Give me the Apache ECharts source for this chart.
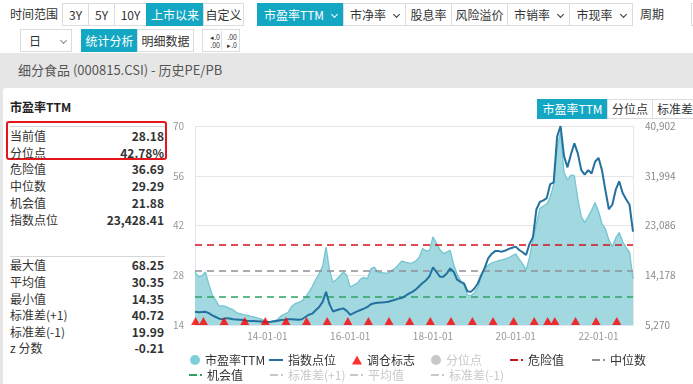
<!DOCTYPE html>
<html><head><meta charset="utf-8">
<script src="https://cdn.jsdelivr.net/npm/echarts@6/dist/echarts.min.js"></script>
<style>
*{margin:0;padding:0;box-sizing:border-box}
body{width:693px;height:384px;overflow:hidden;background:#fff;font-family:"Noto Sans CJK SC","Microsoft YaHei",sans-serif;color:#333;font-size:12px;position:relative}
.a{position:absolute;white-space:nowrap}
.btn{position:absolute;height:23px;line-height:21px;border:1px solid #dcdcdc;text-align:center;font-size:12px;color:#333;background:#fff;white-space:nowrap}
.on{background:#14a7c3;color:#fff;border-color:#14a7c3}
.chev{display:inline-block;width:5px;height:5px;border-right:1px solid currentColor;border-bottom:1px solid currentColor;transform:rotate(45deg);margin-left:8px;position:relative;top:-3px}
#band{position:absolute;left:0;top:53px;width:693px;height:331px;background:#e6e6e6}
#card{position:absolute;left:3px;top:88px;width:690px;height:296px;background:#fff;border-radius:3px 0 0 0}
#chart{position:absolute;left:0;top:0;width:693px;height:384px}
.row{position:absolute;height:16px;line-height:16px;font-size:12px}
.lab{left:10px;color:#333}
.val{left:60px;width:104px;text-align:right;font-weight:bold;color:#333}
</style></head>
<body>
<div id="band"></div>
<div id="card"></div>
<div class="a" style="left:10px;top:5px;line-height:18px">时间范围</div>
<div class="btn" style="left:62px;top:3px;width:27px">3Y</div>
<div class="btn" style="left:88px;top:3px;width:27px">5Y</div>
<div class="btn" style="left:114px;top:3px;width:33px">10Y</div>
<div class="btn on" style="left:146px;top:3px;width:58px">上市以来</div>
<div class="btn" style="left:203px;top:3px;width:41px">自定义</div>
<div class="btn on" style="left:257px;top:3px;width:87px">市盈率TTM<span class="chev"></span></div>
<div class="btn" style="left:343px;top:3px;width:63px">市净率<span class="chev"></span></div>
<div class="btn" style="left:405px;top:3px;width:47px">股息率</div>
<div class="btn" style="left:451px;top:3px;width:57px">风险溢价</div>
<div class="btn" style="left:507px;top:3px;width:63px">市销率<span class="chev"></span></div>
<div class="btn" style="left:569px;top:3px;width:64px">市现率<span class="chev"></span></div>
<div class="a" style="left:640px;top:5px;line-height:18px">周期</div>
<div class="btn" style="left:691px;top:3px;width:20px"></div>
<div class="btn" style="left:20px;top:29px;width:52px;text-align:left;padding-left:8px">日<span class="chev" style="margin-left:20px;color:#888"></span></div>
<div class="btn on" style="left:81px;top:29px;width:57px">统计分析</div>
<div class="btn" style="left:137px;top:29px;width:57px">明细数据</div>
<div class="btn" style="left:202px;top:29px;width:38px;font-size:7px;line-height:8px;padding-top:3px">
  <div style="position:absolute;left:3px;top:3px;text-align:right;width:14px">◂.0<br>.00</div>
  <div style="position:absolute;left:18px;top:1px;width:1px;height:19px;background:#ddd"></div>
  <div style="position:absolute;left:20px;top:3px;text-align:right;width:14px">.00<br>▸.0</div>
</div>
<div class="a" style="left:18px;top:61px;font-size:13px;line-height:18px;color:#555">细分食品 (000815.CSI) - 历史PE/PB</div>
<div class="a" style="left:10px;top:99px;font-size:12px;line-height:16px;font-weight:bold;color:#222">市盈率TTM</div>
<div class="a" style="left:6px;top:121px;width:161px;height:39px;border:2px solid #e8141c;border-radius:3px"></div>
<div class="a" style="left:10px;top:126px;width:155px;height:1px;background:#d6d6d6"></div>
<div class="a" style="left:10px;top:256px;width:155px;height:1px;background:#d6d6d6"></div>
<div id="stats"></div>
<div class="btn on" style="left:537px;top:99px;width:71px;height:20px;line-height:18px">市盈率TTM</div>
<div class="btn" style="left:607px;top:99px;width:46px;height:20px;line-height:18px">分位点</div>
<div class="btn" style="left:652px;top:99px;width:46px;height:20px;line-height:18px">标准差</div>
<div id="chart"></div>
<script>
// ---------- data ----------
const startYear = 2012, startMonth = 4, monthCount = 128;
const peValues = [
28.9,27.6,27.8,28.9,25.5,22.5,21.0,19.3,19.4,19.2,18.7,18.3,
17.5,17.2,16.9,16.8,16.5,16.3,16.0,15.7,15.3,14.9,14.9,15.2,
15.6,16.6,17.1,17.6,19.2,20.0,20.3,20.8,21.8,23.2,24.8,26.8,
28.5,30.5,35.9,29.5,26.0,26.8,27.8,28.9,28.0,24.7,25.2,25.7,
26.9,27.4,27.0,29.8,30.3,28.9,28.7,28.6,28.6,29.4,29.9,31.0,
32.0,31.7,31.4,31.5,32.0,33.0,35.5,34.8,35.0,38.8,37.0,35.3,
34.1,34.5,35.0,31.0,28.3,26.5,25.5,22.4,22.3,23.1,24.6,27.6,
29.8,30.8,31.4,31.8,32.1,32.3,32.6,33.0,33.5,34.0,32.5,31.2,
29.5,33.0,38.0,42.5,46.8,47.5,48.0,50.0,53.5,64.0,68.2,57.0,
54.8,56.2,56.0,49.5,44.5,42.8,44.5,46.3,48.5,46.0,42.5,41.0,
38.0,36.0,38.5,40.0,37.5,35.8,34.5,27.0
];
const indexValues = [
7650,7550,7600,7650,7400,7000,6700,6400,6300,6500,6450,6300,
6250,6200,6150,6050,6000,6000,5950,5900,5850,5800,5850,5950,
6050,6150,6200,6300,6300,6250,6200,6300,6700,7100,7300,7900,
8500,9400,11200,9000,7700,7900,8100,8250,7800,7100,7400,7700,
7950,8200,8500,9000,9150,9250,9300,9350,9430,9600,9800,10000,
10100,10500,10900,11200,11600,12200,12800,13300,14000,15600,14800,13900,
13900,14500,15400,14800,13400,13000,12700,11300,11200,11800,12700,14200,
15500,17200,18000,18500,18500,18400,18600,18900,19100,19300,18700,18300,
17800,19800,21000,26000,27300,27600,28000,30500,30800,39000,40900,35500,
33500,35800,37800,36000,33000,32200,33000,32400,34500,35200,33000,29400,
26000,26800,29500,31000,28900,27800,26800,22000
];
const rebalanceDates = [
'2012-04-06','2012-06-15','2012-12-14','2013-06-14','2013-12-13','2014-06-13','2014-12-12',
'2015-06-12','2015-12-11','2016-06-10','2016-12-09','2017-06-09','2017-12-08','2018-06-08',
'2018-12-14','2019-06-14','2019-12-13','2020-06-12','2020-10-09','2020-12-11','2021-06-11',
'2021-12-10','2022-06-10'
];
const dangerValue = 36.69, medianValue = 29.29, chanceValue = 21.88;
const meanValue = 30.35, stdPlusValue = 40.72, stdMinusValue = 19.99;
const peAxis = {min: 14, max: 70, interval: 14};
const idxAxis = {min: 5270, max: 40902, interval: 8908};
const statLabels = ['当前值','分位点','危险值','中位数','机会值','指数点位','最大值','平均值','最小值','标准差(+1)','标准差(-1)','z 分数'];
const statValues = ['28.18','42.78%','36.69','29.29','21.88','23,428.41','68.25','30.35','14.35','40.72','19.99','-0.21'];
const statCenters = [135.5,152.5,169,186,202.5,219.5,265,281.5,298.5,315,331.5,348];

// ---------- stats panel ----------
const st = document.getElementById('stats');
statLabels.forEach((l,i)=>{
  const a=document.createElement('div');a.className='row lab';a.style.top=(statCenters[i]-8)+'px';a.textContent=l;st.appendChild(a);
  const b=document.createElement('div');b.className='row val';b.style.top=(statCenters[i]-8)+'px';b.textContent=statValues[i];st.appendChild(b);
});

// ---------- categories ----------
const categories = [];
for (let i=0;i<monthCount;i++){const t=startMonth-1+i;const y=startYear+Math.floor(t/12);const m=t%12+1;
  categories.push(String(y).slice(2)+'-'+String(m).padStart(2,'0')+'-01');}
function monthPos(d){const p=d.split('-').map(Number);return (p[0]-startYear)*12+(p[1]-startMonth)+(p[2]-1)/31;}

const FONT = '"Noto Sans CJK SC","Microsoft YaHei",sans-serif';
const dashIcon = 'path://M0,0H8V2H0Z M11,0H13V2H11Z';
function lg(name,left,top,icon,w,h,sel){
  const o={data:[name],left:left,top:top,padding:0,icon:icon,itemWidth:w,itemHeight:h,
    textStyle:{color:'#333',fontSize:12,fontFamily:FONT},inactiveColor:'#c8c8c8'};
  if(sel===false){o.selected={};o.selected[name]=false;}
  return o;
}
function refLine(name,val,color,z){
  return {name:name,type:'line',data:[],itemStyle:{color:color},lineStyle:{color:color},z:z,
    markLine:{silent:true,symbol:'none',label:{show:false},animation:false,
      lineStyle:{color:color,type:[7,5],width:1.5},data:[{yAxis:val}]}};
}

const chart = echarts.init(document.getElementById('chart'),null,{renderer:'canvas'});
chart.setOption({
  animation:false,
  textStyle:{fontFamily:FONT},
  grid:{left:195,right:60,top:126,bottom:59},
  legend:[
    lg('市盈率TTM',190,354,'circle',10,10),
    lg('指数点位',269,354,'path://M0,0H14V2H0Z',14,2),
    lg('调仓标志',352,354,'triangle',10,9),
    lg('分位点',431,354,'circle',10,10,false),
    lg('危险值',510,354,dashIcon,13,2),
    lg('中位数',592,354,dashIcon,13,2),
    lg('机会值',189,369,dashIcon,13,2),
    lg('标准差(+1)',270,369,dashIcon,13,2,false),
    lg('平均值',350,369,dashIcon,13,2,false),
    lg('标准差(-1)',431,369,dashIcon,13,2,false)
  ],
  xAxis:[
    {type:'category',data:categories,boundaryGap:false,
     axisLine:{lineStyle:{color:'#e0e6f1'}},axisTick:{show:false},splitLine:{show:false},
     axisLabel:{color:'#999',fontSize:10,margin:6,
       interval:function(i,v){const m=/^(\d\d)-01-01$/.exec(v);return !!m && (+m[1])%2===0;}}},
    {type:'value',min:0,max:monthCount-1,show:false}
  ],
  yAxis:[
    {type:'value',min:peAxis.min,max:peAxis.max,interval:peAxis.interval,position:'left',
     axisLine:{show:true,lineStyle:{color:'#e0e6f1'}},axisTick:{show:false},
     axisLabel:{color:'#999',fontSize:10,margin:11},splitLine:{lineStyle:{color:'#e6e6e6'}}},
    {type:'value',min:idxAxis.min,max:idxAxis.max,interval:idxAxis.interval,position:'right',
     axisLine:{show:true,lineStyle:{color:'#e6e6e6'}},axisTick:{show:false},
     axisLabel:{color:'#888',fontSize:10,margin:12},splitLine:{show:false}}
  ],
  series:[
    {name:'市盈率TTM',type:'line',data:peValues,symbol:'none',z:1,
     itemStyle:{color:'#7fcfda'},lineStyle:{color:'#74c6d2',width:1.3},
     areaStyle:{color:'#a2d8df',opacity:1}},
    refLine('危险值',dangerValue,'#d0131b',2),
    refLine('中位数',medianValue,'#8f8f96',2),
    refLine('机会值',chanceValue,'#2ea264',2),
    refLine('标准差(+1)',stdPlusValue,'#aaaaaa',2),
    refLine('平均值',meanValue,'#aaaaaa',2),
    refLine('标准差(-1)',stdMinusValue,'#aaaaaa',2),
    {name:'分位点',type:'line',data:[],symbol:'none',itemStyle:{color:'#bbbbbb'}},
    {name:'指数点位',type:'line',yAxisIndex:1,data:indexValues,symbol:'none',z:5,
     itemStyle:{color:'#23719e'},lineStyle:{color:'#23719e',width:2}},
    {name:'调仓标志',type:'scatter',xAxisIndex:1,yAxisIndex:0,clip:false,z:6,
     data:rebalanceDates.map(d=>[monthPos(d),peAxis.min]),
     symbol:'triangle',symbolSize:[9,8],symbolOffset:[0,-4],itemStyle:{color:'#ff0000'}}
  ]
});
</script>
</body></html>
